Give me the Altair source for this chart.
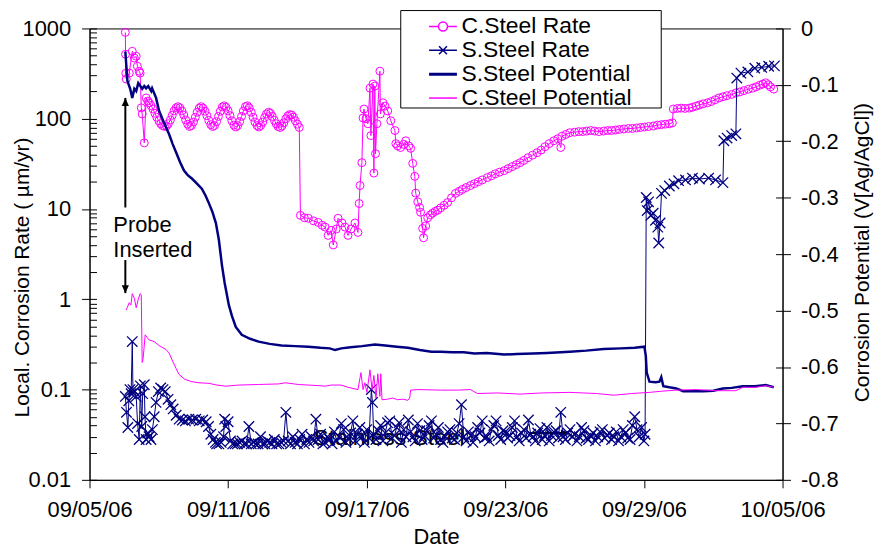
import altair as alt
import pandas as pd

START = pd.Timestamp("2006-09-05")
MAGENTA = "#FF00FF"
NAVY = "#000080"
FONT = "Liberation Sans"
W, H = 697, 454

# ---- data (day offset from 09/05/06 00:00, value) ----
cs_rate = [
    (1.55, 904), (1.56, 518), (1.57, 319), (1.59, 275), (1.72, 320), (1.85, 558), (1.94, 470), (2.02, 492),
    (2.07, 381), (2.15, 336), (2.19, 320), (2.24, 132), (2.28, 113), (2.37, 54), (2.45, 170), (2.52, 157),
    (2.58, 150), (2.66, 140), (2.75, 128), (2.83, 115), (2.91, 104), (3.00, 95), (3.08, 88), (3.16, 84),
    (3.25, 82), (3.33, 83), (3.41, 88), (3.50, 97), (3.58, 109), (3.66, 122), (3.75, 132), (3.83, 136),
    (3.91, 132), (4.00, 122), (4.08, 110), (4.16, 97), (4.25, 87), (4.33, 82), (4.41, 84), (4.50, 92),
    (4.58, 104), (4.66, 118), (4.75, 131), (4.83, 136), (4.91, 131), (5.00, 121), (5.08, 108), (5.16, 96),
    (5.25, 86), (5.33, 82), (5.41, 84), (5.50, 93), (5.58, 106), (5.66, 121), (5.75, 135), (5.83, 139),
    (5.91, 134), (6.00, 122), (6.08, 108), (6.16, 95), (6.25, 85), (6.33, 81), (6.41, 84), (6.50, 93),
    (6.58, 106), (6.66, 122), (6.75, 136), (6.83, 139), (6.91, 132), (7.00, 118), (7.08, 104), (7.16, 92),
    (7.25, 84), (7.33, 81), (7.41, 84), (7.50, 92), (7.58, 103), (7.66, 113), (7.75, 118), (7.83, 115),
    (7.91, 106), (8.00, 96), (8.08, 88), (8.16, 82), (8.25, 80), (8.33, 83), (8.41, 90), (8.50, 100),
    (8.58, 107), (8.66, 111), (8.75, 110), (8.83, 104), (8.91, 95), (9.00, 87), (9.08, 80),
    (9.13, 8.5), (9.30, 8.0), (9.47, 7.9), (9.69, 7.4), (9.90, 7.1), (10.07, 6.6), (10.20, 6.3), (10.33, 5.1),
    (10.46, 5.8), (10.55, 4.0), (10.68, 6.0), (10.76, 7.9), (10.93, 7.0), (11.06, 6.3), (11.19, 5.1), (11.32, 6.0),
    (11.49, 7.0), (11.62, 5.5), (11.67, 11.5), (11.71, 18.2), (11.79, 32.6), (11.84, 102), (11.88, 128), (11.97, 100),
    (12.05, 88), (12.14, 218), (12.18, 65), (12.27, 242), (12.31, 25), (12.35, 230), (12.38, 41), (12.44, 88),
    (12.57, 336), (12.59, 113), (12.70, 150), (12.79, 138), (12.91, 122), (13.04, 95), (13.22, 74), (13.26, 53),
    (13.34, 50), (13.47, 48), (13.60, 52), (13.69, 57), (13.82, 50), (13.90, 47), (13.99, 32), (14.08, 23),
    (14.12, 15), (14.21, 12), (14.29, 10.4), (14.33, 9.2), (14.42, 6.1), (14.46, 4.8), (14.55, 6.5), (14.64, 8.0),
    (14.75, 8.6), (14.85, 9.0), (14.96, 9.4), (15.07, 9.7), (15.20, 10.3), (15.35, 11.0), (15.50, 11.8), (15.67, 13.3),
    (15.84, 14.9), (16.00, 15.7), (16.14, 16.5), (16.30, 17.3), (16.49, 18.2), (16.66, 19.1), (16.83, 20), (17.00, 21),
    (17.22, 22.3), (17.40, 23.3), (17.56, 24.5), (17.75, 25.6), (17.95, 26.6), (18.12, 28), (18.30, 29.5), (18.47, 31),
    (18.64, 32.6), (18.80, 34.5), (18.98, 37), (19.18, 39.5), (19.37, 42), (19.55, 45), (19.72, 49), (19.90, 53),
    (20.10, 57), (20.27, 60), (20.40, 48), (20.45, 64), (20.62, 67), (20.79, 70), (21.00, 71), (21.18, 72),
    (21.35, 72), (21.52, 73), (21.70, 74), (21.87, 73), (22.05, 72), (22.26, 73), (22.43, 74), (22.60, 74),
    (22.77, 75), (22.94, 76), (23.13, 77), (23.33, 78), (23.50, 78), (23.68, 79), (23.85, 80), (24.02, 81),
    (24.20, 82), (24.41, 83), (24.58, 85), (24.75, 86), (24.92, 87), (25.10, 88), (25.23, 90), (25.27, 128),
    (25.45, 130), (25.61, 131), (25.78, 130), (25.96, 131), (26.10, 134), (26.26, 138), (26.40, 142), (26.56, 146),
    (26.75, 150), (26.91, 155), (27.08, 162), (27.25, 170), (27.42, 175), (27.59, 180), (27.80, 186), (27.98, 193),
    (28.15, 198), (28.33, 205), (28.52, 212), (28.71, 218), (28.86, 226), (29.01, 235), (29.15, 242), (29.27, 250),
    (29.38, 238), (29.48, 225), (29.62, 213),
]

ss_rate = [
    (1.55, 0.084), (1.60, 0.056), (1.66, 0.038), (1.70, 0.075), (1.75, 0.10), (1.80, 0.09), (1.85, 0.34), (1.88, 0.10),
    (1.95, 0.095), (2.02, 0.084), (2.08, 0.042), (2.15, 0.028), (2.20, 0.11), (2.26, 0.039), (2.30, 0.09), (2.37, 0.113),
    (2.40, 0.05), (2.45, 0.028), (2.52, 0.033), (2.58, 0.030), (2.66, 0.028), (2.72, 0.036), (2.80, 0.05), (2.88, 0.072),
    (2.98, 0.095), (3.08, 0.104), (3.18, 0.100), (3.28, 0.095), (3.40, 0.078), (3.52, 0.068), (3.62, 0.061), (3.75, 0.052),
    (3.88, 0.047), (4.02, 0.046), (4.15, 0.045), (4.30, 0.047), (4.45, 0.046), (4.60, 0.047), (4.75, 0.045), (4.90, 0.046),
    (5.05, 0.044), (5.15, 0.039), (5.25, 0.032), (5.35, 0.028), (5.45, 0.026),
    (5.5, 0.025), (5.6, 0.025), (5.7, 0.026), (5.8, 0.030), (5.85, 0.047), (5.9, 0.039), (6.0, 0.044), (6.1, 0.027),
    (6.2, 0.025), (6.3, 0.025), (6.4, 0.025), (6.5, 0.026), (6.6, 0.027), (6.7, 0.025), (6.8, 0.025), (6.9, 0.039),
    (7.0, 0.025), (7.1, 0.026), (7.2, 0.025), (7.3, 0.025), (7.4, 0.030), (7.5, 0.025), (7.6, 0.025), (7.7, 0.027),
    (7.8, 0.026), (7.9, 0.025), (8.0, 0.028), (8.1, 0.025), (8.2, 0.025), (8.3, 0.026), (8.4, 0.027), (8.5, 0.056),
    (8.6, 0.027), (8.7, 0.025), (8.8, 0.030), (8.9, 0.026), (9.0, 0.025), (9.1, 0.028), (9.2, 0.032), (9.3, 0.025),
    (9.4, 0.028), (9.5, 0.026), (9.6, 0.030), (9.7, 0.027), (9.8, 0.047), (9.9, 0.028), (10.0, 0.032), (10.1, 0.025),
    (10.2, 0.026), (10.3, 0.030), (10.4, 0.028), (10.5, 0.025), (10.6, 0.034), (10.7, 0.027), (10.8, 0.030), (10.9, 0.042),
    (11.0, 0.036), (11.1, 0.026), (11.2, 0.029), (11.3, 0.033), (11.4, 0.045), (11.5, 0.027), (11.6, 0.032), (11.7, 0.038),
    (11.8, 0.030), (11.9, 0.026), (12.0, 0.036), (12.1, 0.029), (12.2, 0.10), (12.25, 0.072), (12.3, 0.032), (12.4, 0.028),
    (12.5, 0.035), (12.6, 0.040), (12.7, 0.027), (12.8, 0.033), (12.9, 0.043), (13.0, 0.045), (13.1, 0.029), (13.2, 0.031),
    (13.3, 0.038), (13.4, 0.043), (13.5, 0.026), (13.6, 0.036), (13.7, 0.030), (13.8, 0.046), (13.9, 0.034), (14.0, 0.030),
    (14.1, 0.027), (14.2, 0.042), (14.3, 0.035), (14.4, 0.028), (14.5, 0.031), (14.6, 0.035), (14.7, 0.040), (14.8, 0.045),
    (14.9, 0.029), (15.0, 0.032), (15.1, 0.038), (15.2, 0.028), (15.3, 0.026), (15.4, 0.030), (15.5, 0.034), (15.6, 0.036),
    (15.7, 0.029), (15.8, 0.028), (15.9, 0.033), (16.0, 0.042), (16.1, 0.068), (16.2, 0.030), (16.3, 0.027), (16.4, 0.034),
    (16.5, 0.031), (16.6, 0.026), (16.7, 0.030), (16.8, 0.038), (16.9, 0.033), (17.0, 0.045), (17.1, 0.029), (17.2, 0.030),
    (17.3, 0.027), (17.4, 0.036), (17.5, 0.040), (17.6, 0.045), (17.7, 0.031), (17.8, 0.028), (17.9, 0.035), (18.0, 0.034),
    (18.1, 0.029), (18.2, 0.031), (18.3, 0.038), (18.4, 0.045), (18.5, 0.030), (18.6, 0.027), (18.7, 0.033), (18.8, 0.036),
    (18.9, 0.029), (19.0, 0.046), (19.1, 0.032), (19.2, 0.030), (19.3, 0.027), (19.4, 0.033), (19.5, 0.037), (19.6, 0.028),
    (19.7, 0.031), (19.8, 0.038), (19.9, 0.027), (20.0, 0.031), (20.1, 0.034), (20.2, 0.035), (20.3, 0.029), (20.4, 0.056),
    (20.5, 0.030), (20.6, 0.028), (20.7, 0.033), (20.8, 0.036), (20.9, 0.030), (21.0, 0.032), (21.1, 0.027), (21.2, 0.030),
    (21.3, 0.038), (21.4, 0.035), (21.5, 0.029), (21.6, 0.028), (21.7, 0.031), (21.8, 0.033), (21.9, 0.027), (22.0, 0.030),
    (22.1, 0.034), (22.2, 0.036), (22.3, 0.029), (22.4, 0.031), (22.5, 0.033), (22.6, 0.028), (22.7, 0.030), (22.8, 0.034),
    (22.9, 0.027), (23.0, 0.030), (23.1, 0.036), (23.2, 0.033), (23.3, 0.029), (23.4, 0.028), (23.5, 0.040), (23.6, 0.050),
    (23.7, 0.036), (23.8, 0.030), (23.9, 0.038), (24.0, 0.027), (24.05, 0.032),
    (24.10, 13.4), (24.14, 9.6), (24.20, 12), (24.30, 8.5), (24.40, 9), (24.50, 7.5), (24.60, 6.3), (24.64, 4.2),
    (24.70, 7), (24.76, 14.9), (24.90, 16), (25.10, 18), (25.30, 19), (25.50, 20.6), (25.80, 21), (26.10, 22),
    (26.40, 21.5), (26.80, 22), (27.10, 21), (27.42, 19.6), (27.46, 57), (27.60, 61), (27.80, 65), (27.98, 68),
    (28.02, 282), (28.20, 320), (28.50, 330), (28.80, 363), (29.10, 370), (29.40, 381), (29.65, 385),
]

ss_pot = [
    (1.55, -0.041), (1.60, -0.070), (1.64, -0.093), (1.76, -0.107), (1.85, -0.123), (1.94, -0.107), (2.02, -0.111), (2.11, -0.097),
    (2.20, -0.102), (2.28, -0.107), (2.37, -0.102), (2.45, -0.106), (2.54, -0.102), (2.67, -0.111), (2.71, -0.106), (2.88, -0.123),
    (3.01, -0.146), (3.20, -0.165), (3.44, -0.187), (3.60, -0.205), (3.75, -0.220), (3.92, -0.237), (4.09, -0.252), (4.25, -0.260),
    (4.43, -0.266), (4.65, -0.275), (4.86, -0.284), (5.02, -0.296), (5.17, -0.310), (5.32, -0.325), (5.47, -0.345), (5.60, -0.375),
    (5.73, -0.419), (5.85, -0.451), (6.03, -0.490), (6.16, -0.509), (6.33, -0.529), (6.59, -0.543), (6.95, -0.550), (7.32, -0.555),
    (7.80, -0.559), (8.31, -0.562), (8.90, -0.563), (9.47, -0.564), (10.00, -0.566), (10.40, -0.567), (10.63, -0.570), (10.90, -0.567),
    (11.30, -0.565), (11.80, -0.563), (12.35, -0.560), (12.80, -0.562), (13.30, -0.564), (13.78, -0.566), (14.30, -0.570), (14.80, -0.573),
    (15.20, -0.573), (15.70, -0.574), (16.20, -0.574), (16.66, -0.576), (17.20, -0.575), (17.95, -0.578), (18.50, -0.577), (19.20, -0.576),
    (19.80, -0.575), (20.79, -0.573), (21.50, -0.571), (22.26, -0.568), (23.00, -0.567), (23.60, -0.566), (24.02, -0.564), (24.08, -0.580),
    (24.12, -0.610), (24.24, -0.626), (24.50, -0.627), (24.67, -0.626), (24.75, -0.618), (24.84, -0.634), (25.10, -0.636), (25.40, -0.638),
    (25.70, -0.643), (26.56, -0.643), (27.00, -0.642), (27.42, -0.638), (27.80, -0.637), (28.28, -0.634), (28.80, -0.634), (29.27, -0.632),
    (29.62, -0.636),
]

cs_pot = [
    (1.59, -0.499), (1.72, -0.486), (1.79, -0.490), (1.85, -0.470), (1.94, -0.478), (2.02, -0.495), (2.11, -0.480), (2.19, -0.470),
    (2.24, -0.472), (2.28, -0.592), (2.32, -0.585), (2.41, -0.543), (2.50, -0.548), (2.58, -0.552), (2.80, -0.555), (3.01, -0.562),
    (3.31, -0.569), (3.44, -0.575), (3.57, -0.587), (3.75, -0.603), (3.87, -0.613), (4.13, -0.622), (4.43, -0.626), (4.74, -0.628),
    (5.17, -0.629), (5.51, -0.632), (5.90, -0.634), (6.46, -0.632), (7.32, -0.631), (8.18, -0.630), (8.48, -0.628), (9.04, -0.631),
    (9.90, -0.633), (10.20, -0.634), (10.46, -0.632), (10.89, -0.632), (11.19, -0.636), (11.62, -0.640), (11.75, -0.610), (11.84, -0.640),
    (11.92, -0.628), (12.01, -0.645), (12.14, -0.605), (12.23, -0.640), (12.31, -0.615), (12.40, -0.655), (12.48, -0.612), (12.57, -0.652),
    (12.61, -0.612), (12.66, -0.658), (12.91, -0.657), (13.13, -0.655), (13.34, -0.658), (13.56, -0.657), (13.78, -0.659), (13.86, -0.655),
    (13.90, -0.641), (14.21, -0.640), (15.20, -0.641), (15.93, -0.641), (16.49, -0.640), (16.79, -0.647), (17.65, -0.646), (18.64, -0.648),
    (19.59, -0.646), (20.79, -0.645), (21.95, -0.647), (22.69, -0.650), (23.46, -0.647), (24.24, -0.645), (24.75, -0.643), (25.40, -0.641),
    (26.26, -0.640), (27.12, -0.642), (27.98, -0.642), (28.28, -0.636), (28.84, -0.636), (29.27, -0.633), (29.62, -0.636),
]

series_names = ["C.Steel Rate", "S.Steel Rate", "S.Steel Potential", "C.Steel Potential"]
series_colors = [MAGENTA, NAVY, NAVY, MAGENTA]

rate_ticks = [0.01, 0.1, 1, 10, 100, 1000]
rate_inner_ticks = [k * 10.0 ** e for e in range(-2, 3) for k in range(1, 10)] + [1000]
pot_ticks = [-0.8, -0.7, -0.6, -0.5, -0.4, -0.3, -0.2, -0.1, 0.0]
date_ticks = [(9, 5), (9, 11), (9, 17), (9, 23), (9, 29), (10, 5)]

# annotations (day, value, text)
probe_text = [(1.03, 5.57, "Probe"), (1.03, 2.95, "Inserted")]
probe_arrows = [(1.55, 10.4, 170), (1.55, 2.72, 1.17)]   # day, from, to(tip)
stainless_text = [(9.69, 0.0245, "Stainless Steel")]
stainless_arrow = [(19.03, 20.75, 0.033)]                 # from day, to day, value


def tstamp(d):
    return START + pd.Timedelta(days=d)


def frame(pairs):
    return pd.DataFrame({"t": [tstamp(d) for d, _ in pairs], "v": [v for _, v in pairs]})


x_scale = alt.Scale(domain=[alt.DateTime(year=2006, month=9, date=5),
                            alt.DateTime(year=2006, month=10, date=5)])
x_axis = alt.Axis(values=[alt.DateTime(year=2006, month=m, date=d) for m, d in date_ticks],
                  format="%m/%d/%y", tickSize=8, labelPadding=29, labelBaseline="alphabetic",
                  labelFlush=False, labelOverlap=False, grid=False, title="Date",
                  titleY=64, titleBaseline="alphabetic", titleFontSize=22)


def X(field="t"):
    return alt.X(f"{field}:T", scale=x_scale, axis=x_axis, title="Date")


rate_scale = alt.Scale(type="log", domain=[0.01, 1000], nice=False)
pot_scale = alt.Scale(domain=[-0.8, 0], nice=False)

left_axis = alt.Axis(orient="left", values=rate_ticks, format="~g", tickSize=8, labelPadding=11,
                     grid=False, title="Local. Corrosion Rate ( µm/yr)", titleX=-61, titleY=250,
                     titleAngle=270, titleBaseline="alphabetic", titleAlign="center")
left_inner = alt.Axis(orient="right", offset=-W, values=rate_inner_ticks, tickSize=7, labels=False,
                      domain=False, grid=False, title=None)
right_axis = alt.Axis(orient="right", values=pot_ticks, tickSize=8, labelPadding=10, grid=False,
                      labelExpr="datum.value == 0 ? '0' : '-' + format(-datum.value, '.1f')",
                      title="Corrosion Potential  (V[Ag/AgCl])", titleX=86, titleY=225,
                      titleAngle=270, titleBaseline="alphabetic", titleAlign="center")
right_inner = alt.Axis(orient="left", offset=-W, values=pot_ticks, tickSize=7, labels=False,
                       domain=False, grid=False, title=None)


def Yr(axis=None, field="v"):
    return alt.Y(f"{field}:Q", scale=rate_scale, axis=axis)


def Yp(axis=None):
    return alt.Y("v:Q", scale=pot_scale, axis=axis)


cs_rate_df = frame(cs_rate)
ss_rate_df = frame(ss_rate)
ss_pot_df = frame(ss_pot)
cs_pot_df = frame(cs_pot)

X_PATH = "M-1,-1L1,1M-1,1L1,-1"

# Stainless Steel annotation (drawn beneath the data)
st_df = pd.DataFrame({"t": [tstamp(d) for d, _, _ in stainless_text],
                      "v": [v for _, v, _ in stainless_text],
                      "txt": [s for _, _, s in stainless_text]})
st_text = alt.Chart(st_df).mark_text(align="left", baseline="alphabetic", font=FONT, fontSize=23,
                                     color="black").encode(x=X(), y=Yr(), text="txt:N")
sa_df = pd.DataFrame({"t": [tstamp(a) for a, _, _ in stainless_arrow],
                      "t2": [tstamp(b) for _, b, _ in stainless_arrow],
                      "v": [v for _, _, v in stainless_arrow]})
st_rule = alt.Chart(sa_df).mark_rule(color="black", strokeWidth=2).encode(x=X(), x2="t2:T", y=Yr())
st_head = alt.Chart(sa_df).mark_point(shape="M0,0L-1,-0.45L-1,0.45Z", filled=True, size=256,
                                      color="black", opacity=1).encode(x=X("t2"), y=Yr())

cs_rate_line = alt.Chart(cs_rate_df).mark_line(color=MAGENTA, strokeWidth=1).encode(
    x=X(), y=Yr(left_axis))
cs_rate_pts = alt.Chart(cs_rate_df).mark_point(shape="circle", filled=False, size=64, color=MAGENTA,
                                               strokeWidth=1, opacity=1).encode(x=X(), y=Yr(left_inner))
ss_rate_line = alt.Chart(ss_rate_df).mark_line(color=NAVY, strokeWidth=1).encode(x=X(), y=Yr())
ss_rate_pts = alt.Chart(ss_rate_df).mark_point(shape=X_PATH, filled=False, size=110, color=NAVY,
                                               strokeWidth=1.3, opacity=1).encode(x=X(), y=Yr())
ss_pot_line = alt.Chart(ss_pot_df).mark_line(color=NAVY, strokeWidth=2.5).encode(
    x=X(), y=Yp(right_axis))
cs_pot_line = alt.Chart(cs_pot_df).mark_line(color=MAGENTA, strokeWidth=1).encode(
    x=X(), y=Yp(right_inner))

# Probe Inserted annotation
pt_df = pd.DataFrame({"t": [tstamp(d) for d, _, _ in probe_text],
                      "v": [v for _, v, _ in probe_text],
                      "txt": [s for _, _, s in probe_text]})
probe_txt = alt.Chart(pt_df).mark_text(align="left", baseline="alphabetic", font=FONT, fontSize=22,
                                       color="black").encode(x=X(), y=Yr(), text="txt:N")
pa_df = pd.DataFrame({"t": [tstamp(d) for d, _, _ in probe_arrows],
                      "v": [a for _, a, _ in probe_arrows],
                      "v2": [b for _, _, b in probe_arrows]})
probe_rules = alt.Chart(pa_df).mark_rule(color="black", strokeWidth=2).encode(
    x=X(), y=Yr(), y2="v2:Q")
up_head = alt.Chart(pa_df.iloc[[0]]).mark_point(shape="M0,0L-0.45,1L0.45,1Z", filled=True, size=256,
                                                color="black", opacity=1).encode(x=X(), y=Yr(field="v2"))
down_head = alt.Chart(pa_df.iloc[[1]]).mark_point(shape="M0,0L-0.45,-1L0.45,-1Z", filled=True, size=256,
                                                  color="black", opacity=1).encode(x=X(), y=Yr(field="v2"))

# legend box and legend entries
legend_box = alt.Chart(pd.DataFrame({"a": [0]})).mark_rect(fill="white", stroke="black", strokeWidth=1).encode(
    x=alt.value(313), x2=alt.value(575), y=alt.value(-18), y2=alt.value(80))

legend_paths = [
    "M-1.4,0H-0.45M0.45,0H1.4M0.45,0A0.45,0.45 0 1 1 -0.45,0A0.45,0.45 0 1 1 0.45,0",
    "M-1.4,0H1.4M-0.4,-0.4L0.4,0.4M-0.4,0.4L0.4,-0.4",
    "M-1.4,-0.08H1.4M-1.4,0H1.4M-1.4,0.08H1.4",
    "M-1.4,0H1.4",
]
leg = alt.Legend(orient="none", legendX=344, legendY=-13.5, title=None, labelFont=FONT,
                 labelFontSize=23, labelColor="black", labelLimit=400, labelOffset=7,
                 rowPadding=0, padding=0, symbolSize=400, symbolStrokeWidth=1.5, symbolOffset=0)
legend_layer = alt.Chart(pd.DataFrame({"series": series_names})).transform_filter("false").mark_point(
    filled=False, size=400, opacity=1).encode(
    color=alt.Color("series:N", scale=alt.Scale(domain=series_names, range=series_colors), legend=leg),
    shape=alt.Shape("series:N", scale=alt.Scale(domain=series_names, range=legend_paths), legend=leg),
)

chart = alt.layer(
    st_text, st_rule, st_head,
    cs_rate_line, cs_rate_pts, ss_rate_line, ss_rate_pts, ss_pot_line, cs_pot_line,
    probe_txt, probe_rules, up_head, down_head,
    legend_box, legend_layer,
).resolve_scale(y="independent").resolve_axis(y="independent").properties(
    width=W, height=H,
    padding={"left": 82, "top": 19, "right": 94, "bottom": 70},
    autosize=alt.AutoSizeParams(type="none"),
).configure_axis(
    labelFont=FONT, titleFont=FONT, labelColor="black", titleColor="black", tickColor="black",
    domainColor="black", labelFontSize=22, titleFontSize=21, titleFontWeight="normal", grid=False,
).configure_view(stroke="black", strokeWidth=1)

chart.save("out.html", embed_options={"renderer": "svg", "actions": False})
